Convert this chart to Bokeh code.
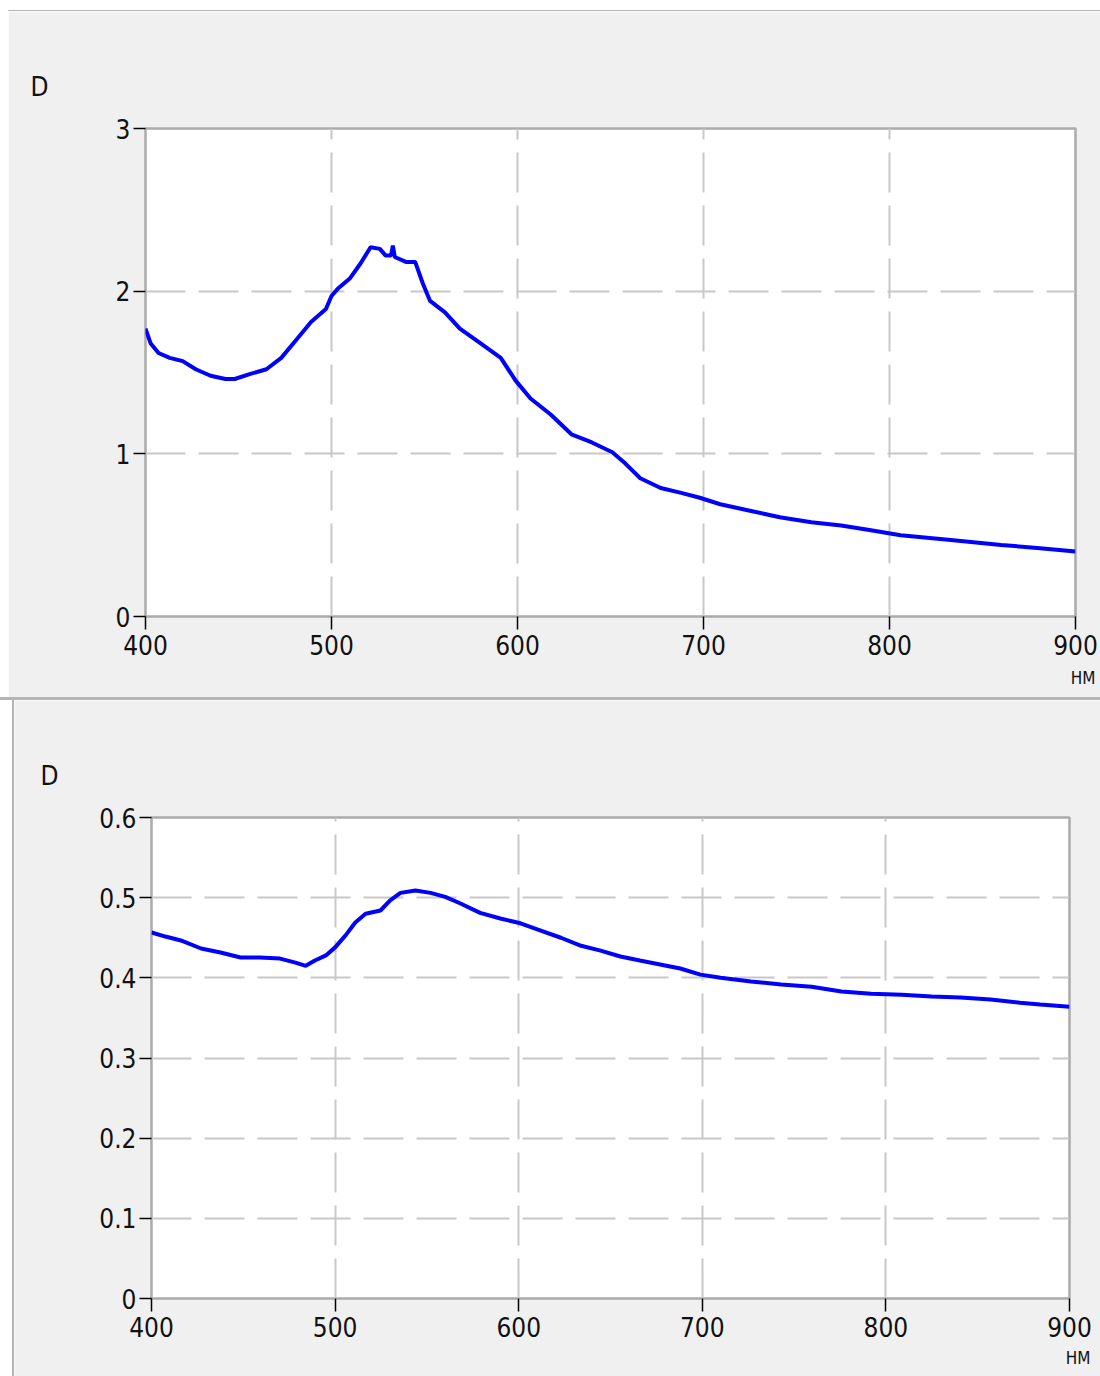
from bokeh.plotting import figure
from bokeh.layouts import column, row
from bokeh.models import Range1d, FixedTicker, Title, Spacer
from bokeh.embed import file_html
from bokeh.resources import INLINE

# Absorbance spectra, wavelength in nm
wl_top = [400, 402.7, 407, 413, 420, 427, 435, 443, 448, 456, 465, 473, 481, 489,
          497, 500, 503.8, 510, 515.6, 521, 526, 529, 532, 533, 534, 540, 545, 549,
          553, 561, 569, 580, 591, 599, 607, 618, 629, 640, 651, 658, 666, 677, 688,
          698, 709, 725, 741, 758, 774, 790, 806, 833, 860, 881, 900]
d_top = [1.77, 1.68, 1.62, 1.59, 1.57, 1.52, 1.48, 1.46, 1.46, 1.49, 1.52, 1.59, 1.70, 1.81,
         1.89, 1.97, 2.02, 2.08, 2.17, 2.27, 2.26, 2.22, 2.22, 2.28, 2.21, 2.18, 2.18, 2.05,
         1.94, 1.87, 1.77, 1.68, 1.59, 1.45, 1.34, 1.24, 1.12, 1.07, 1.01, 0.94, 0.85, 0.79, 0.76,
         0.73, 0.69, 0.65, 0.61, 0.58, 0.56, 0.53, 0.50, 0.47, 0.44, 0.42, 0.40]

wl_bot = [400, 407.6, 416, 427, 437.6, 448.5, 459, 470, 478.4, 484, 489, 495, 500, 505.7,
          511, 516.6, 524.7, 530, 535.6, 543.8, 552, 560, 568, 579, 590, 601, 612, 623,
          634, 644.6, 655.4, 666, 677, 688, 699, 710, 726.5, 743, 759.5, 775.8, 792, 808.6,
          825, 840.6, 857, 873, 884, 900]
d_bot = [0.4565, 0.4515, 0.4466, 0.4366, 0.4316, 0.4253, 0.4253, 0.424, 0.419, 0.415, 0.4216,
         0.428, 0.438, 0.453, 0.469, 0.480, 0.484, 0.4965, 0.506, 0.509, 0.506, 0.501, 0.493,
         0.481, 0.474, 0.468, 0.459, 0.450, 0.440, 0.434, 0.4266, 0.4216, 0.4166, 0.4116, 0.404,
         0.400, 0.3954, 0.3917, 0.389, 0.383, 0.380, 0.379, 0.3767, 0.3755, 0.373, 0.369,
         0.3667, 0.364]

x_ticks = [400, 500, 600, 700, 800, 900]
x_tick_labels = ["400", "500", "600", "700", "800", "900"]
y_ticks_top = [0, 1, 2, 3]
y_tick_labels_top = ["0", "1", "2", "3"]
y_ticks_bot = [0, 0.1, 0.2, 0.3, 0.4, 0.5, 0.6]
y_tick_labels_bot = ["0", "0.1", "0.2", "0.3", "0.4", "0.5", "0.6"]

FONT = "'DejaVu Sans Condensed', 'DejaVu Sans', sans-serif"
PANEL = "#f0f0f0"
GRID = "#c8c8c8"
LINE = "#0000ff"


def panel(wl, d, yticks, ylabels, ymax, w, h, borders, d_offset, d_standoff, hm_offset, hm_standoff):
    left, right, top, bottom = borders
    p = figure(width=w, height=h, output_backend="svg", toolbar_location=None,
               x_range=Range1d(400, 900), y_range=Range1d(0, ymax),
               min_border_left=left, min_border_right=right,
               min_border_top=top, min_border_bottom=bottom)
    p.border_fill_color = PANEL
    p.background_fill_color = "white"
    p.outline_line_color = "#ababab"
    p.outline_line_width = 2.5

    # quantity name in the top-left corner
    p.title.text = "D"
    p.title.align = "left"
    p.title.offset = d_offset
    p.title.standoff = d_standoff
    p.title.text_font = FONT
    p.title.text_font_size = "26px"
    p.title.text_font_style = "normal"
    p.title.text_color = "#111111"

    p.xaxis.ticker = FixedTicker(ticks=x_ticks)
    p.xaxis.major_label_overrides = {t: s for t, s in zip(x_ticks, x_tick_labels)}
    p.yaxis.ticker = FixedTicker(ticks=yticks)
    p.yaxis.major_label_overrides = {t: s for t, s in zip(yticks, ylabels)}

    for ax in (p.xaxis[0], p.yaxis[0]):
        ax.axis_line_color = None
        ax.minor_tick_line_color = None
        ax.major_tick_line_color = "black"
        ax.major_tick_line_width = 1.5
        ax.major_tick_in = 0
        ax.major_label_text_font = FONT
        ax.major_label_text_font_size = "26px"
        ax.major_label_text_color = "#111111"
    p.xaxis.major_tick_out = 13
    p.xaxis.major_label_standoff = 5
    p.yaxis.major_tick_out = 12
    p.yaxis.major_label_standoff = 3

    for g in (p.xgrid[0], p.ygrid[0]):
        g.grid_line_color = GRID
        g.grid_line_width = 2
        g.grid_line_dash = "40 13"
    p.xgrid.ticker = FixedTicker(ticks=x_ticks)
    p.ygrid.ticker = FixedTicker(ticks=yticks)

    p.line(wl, d, line_color=LINE, line_width=4)

    # wavelength unit under the right end of the x axis
    p.add_layout(Title(text="НМ", align="right", offset=hm_offset, standoff=hm_standoff,
                       text_font=FONT, text_font_size="17px",
                       text_font_style="normal", text_color="#111111"), "below")
    return p


p1 = panel(wl_top, d_top, y_ticks_top, y_tick_labels_top, 3, 1092, 686,
           (137, 25, 117, 81), -115, 53, -20, 17)
p2 = panel(wl_bot, d_bot, y_ticks_bot, y_tick_labels_bot, 0.6, 1086, 676,
           (137, 31, 117, 78), -111, 53, -21, 13)

gray = {"background-color": "#b4b4b4"}
layout = column(
    Spacer(width=1100, height=10),
    row(Spacer(width=8, height=1), Spacer(width=1092, height=1, styles=gray)),
    row(Spacer(width=8, height=686), p1),
    Spacer(width=1100, height=3, styles=gray),
    row(Spacer(width=12, height=676), Spacer(width=2, height=676, styles=gray), p2),
)

open("out.html", "w").write(file_html(layout, INLINE))
